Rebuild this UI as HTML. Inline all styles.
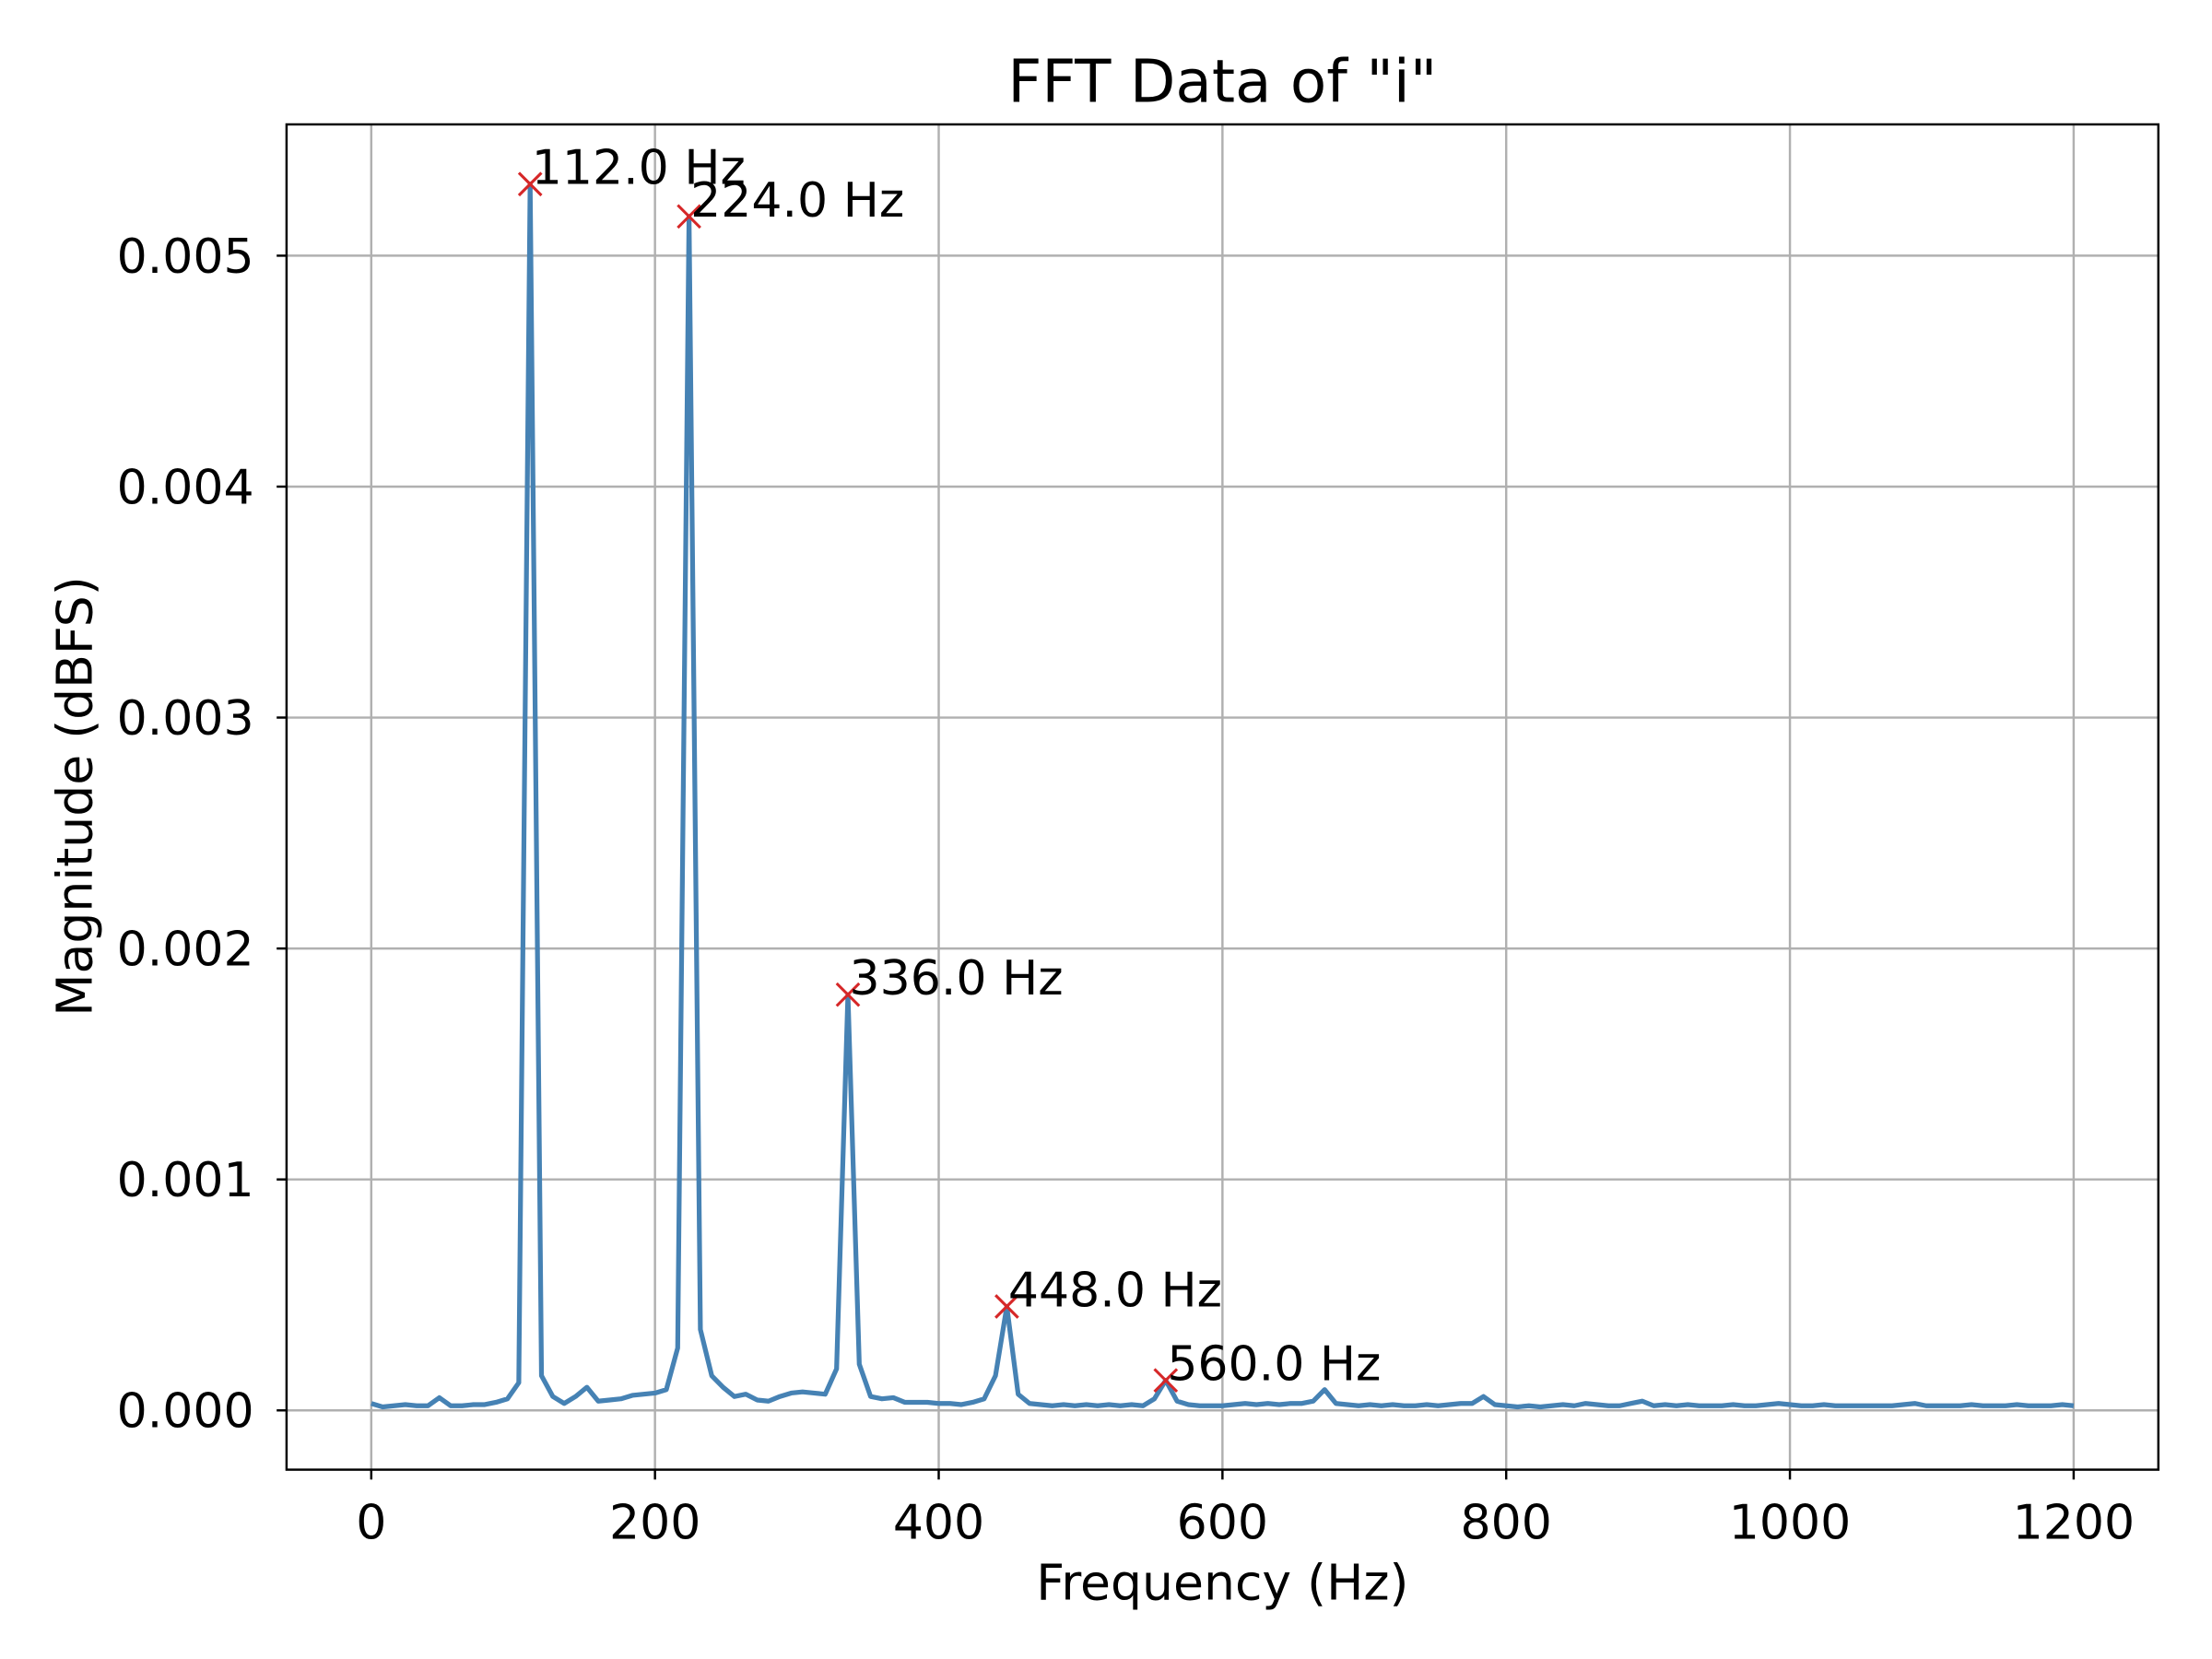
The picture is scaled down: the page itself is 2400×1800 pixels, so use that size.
<!DOCTYPE html>
<html><head><meta charset="utf-8"><style>html,body{margin:0;padding:0;background:#fff}svg{display:block}text{font-family:"DejaVu Sans","Liberation Sans",sans-serif;fill:#000}</style></head>
<body>
<svg id="chart" width="2400" height="1800" viewBox="0 0 1567 1175" xmlns="http://www.w3.org/2000/svg">
<rect width="1567" height="1175" fill="#fff"/>
<g id="grid"></g>
<g id="axes"></g>
<path id="line" fill="none" stroke="#4682b4" stroke-width="3.4" stroke-linejoin="round"/>
<g id="peaks"></g>
<rect x="203" y="88" width="1326" height="953" fill="none" stroke="#000" stroke-width="1.6"/>
<text x="866" y="72" font-size="42" text-anchor="middle">FFT Data of "i"</text>
<text x="866" y="1133" font-size="35" text-anchor="middle">Frequency (Hz)</text>
<text transform="translate(65,564) rotate(-90)" font-size="35" text-anchor="middle">Magnitude (dBFS)</text>
</svg>
<script>
const xTicks=[0,200,400,600,800,1000,1200];
const yTicks=[0,0.001,0.002,0.003,0.004,0.005];
const yTickLabels=["0.000","0.001","0.002","0.003","0.004","0.005"];
const freqStep=8;
const magsE4=[0.3,0.15,0.2,0.25,0.2,0.2,0.55,0.2,0.2,0.25,0.25,0.35,0.5,1.2,53.1,1.5,0.6,0.3,0.6,1.0,0.4,0.45,0.5,0.65,0.7,0.75,0.9,2.7,51.7,3.5,1.5,1.0,0.6,0.7,0.45,0.4,0.6,0.75,0.8,0.75,0.7,1.8,18.0,2.0,0.6,0.5,0.55,0.35,0.35,0.35,0.3,0.3,0.25,0.35,0.5,1.5,4.5,0.7,0.3,0.25,0.2,0.25,0.2,0.25,0.2,0.25,0.2,0.25,0.2,0.5,1.3,0.4,0.25,0.2,0.2,0.2,0.25,0.3,0.25,0.3,0.25,0.3,0.3,0.4,0.9,0.3,0.25,0.2,0.25,0.2,0.25,0.2,0.2,0.25,0.2,0.25,0.3,0.3,0.6,0.25,0.2,0.15,0.2,0.15,0.2,0.25,0.2,0.3,0.25,0.2,0.2,0.3,0.4,0.2,0.25,0.2,0.25,0.2,0.2,0.2,0.25,0.2,0.2,0.25,0.3,0.25,0.2,0.2,0.25,0.2,0.2,0.2,0.2,0.2,0.2,0.25,0.3,0.2,0.2,0.2,0.2,0.25,0.2,0.2,0.2,0.25,0.2,0.2,0.2,0.25,0.2];
const peakFreqs=[112,224,336,448,560];
const peakMagsE4=[53.1,51.7,18.0,4.5,1.3];
const peakLabels=["112.0 Hz","224.0 Hz","336.0 Hz","448.0 Hz","560.0 Hz"];
const NS="http://www.w3.org/2000/svg";
const X=f=>263+f*(1469-263)/1200;
const Y=v=>999-v*(999-181)/0.005;
function mk(tag,attrs,parent){const e=document.createElementNS(NS,tag);for(const k in attrs)e.setAttribute(k,attrs[k]);parent.appendChild(e);return e;}
const grid=document.getElementById('grid'),axes=document.getElementById('axes');
xTicks.forEach(t=>{
 const g=mk('line',{x1:X(t),x2:X(t),y1:88,y2:1041,stroke:'#b0b0b0','stroke-width':1.6},grid);
 
 
 mk('line',{x1:X(t),x2:X(t),y1:1041,y2:1048,stroke:'#000','stroke-width':1.6},axes);
 const tx=mk('text',{x:X(t),y:1090,'font-size':34,'text-anchor':'middle'},axes);tx.textContent=t;
 
 
});
yTicks.forEach((t,i)=>{
 const g=mk('line',{x1:203,x2:1529,y1:Y(t),y2:Y(t),stroke:'#b0b0b0','stroke-width':1.6},grid);
 
 
 mk('line',{x1:196,x2:203,y1:Y(t),y2:Y(t),stroke:'#000','stroke-width':1.6},axes);
 const tx=mk('text',{x:180,y:Y(t)+12,'font-size':34,'text-anchor':'end'},axes);tx.textContent=yTickLabels[i];
 
 
});
let d='';magsE4.forEach((m,i)=>{d+=(i?'L':'M')+X(i*freqStep).toFixed(2)+','+Y(m*1e-4).toFixed(2);});
document.getElementById('line').setAttribute('d',d);
const pk=document.getElementById('peaks');
peakFreqs.forEach((f,i)=>{
 const x=X(f),y=Y(peakMagsE4[i]*1e-4),s=8;
 const m=mk('path',{d:`M${x-s},${y-s}L${x+s},${y+s}M${x-s},${y+s}L${x+s},${y-s}`,stroke:'#d62728','stroke-width':2,fill:'none'},pk);
 
 
 const t=mk('text',{x:x+1,y:y,'font-size':34},pk);t.textContent=peakLabels[i];
 
 
});
</script>
</body></html>
